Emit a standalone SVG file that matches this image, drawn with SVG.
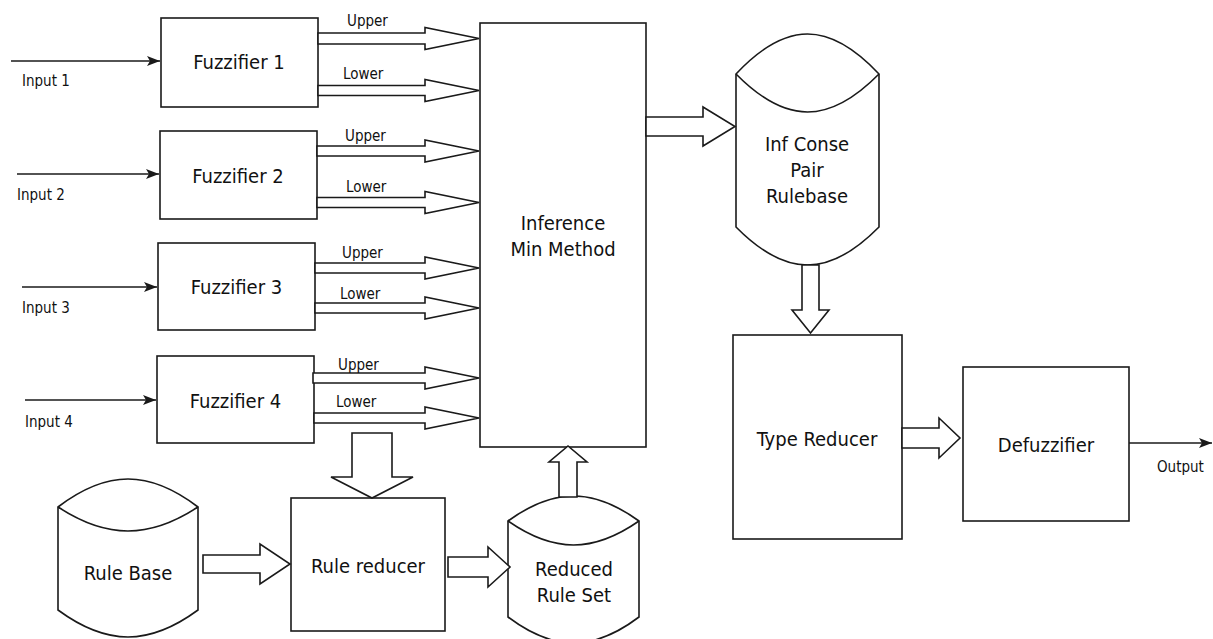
<svg xmlns="http://www.w3.org/2000/svg" width="1213" height="639" viewBox="0 0 1213 639">
  <style>
    .box { fill: #ffffff; stroke: #1a1a1a; stroke-width: 1.6; }
    .blk { fill: #ffffff; stroke: #1a1a1a; stroke-width: 1.6; stroke-linejoin: miter; }
    .line { fill: none; stroke: #1a1a1a; stroke-width: 1.6; }
    .big { font-family: "DejaVu Sans Condensed", "DejaVu Sans", sans-serif; font-stretch: condensed; font-size: 20px; fill: #111111; text-anchor: middle; }
    .small { font-family: "DejaVu Sans Condensed", "DejaVu Sans", sans-serif; font-stretch: condensed; font-size: 15px; fill: #111111; }
  </style>
  <defs>
    <marker id="head" markerWidth="14" markerHeight="10" refX="13" refY="5" orient="auto" markerUnits="userSpaceOnUse">
      <path d="M0,0 L13,5 L0,10 L3,5 Z" fill="#1a1a1a"/>
    </marker>
  </defs>
  <rect width="1213" height="639" fill="#ffffff"/>

  <!-- fuzzifiers -->
  <g id="fuzzifier1">
    <rect class="box" x="161" y="18" width="157" height="89"/>
    <text class="big" x="239" y="69">Fuzzifier 1</text>
  </g>
  <g id="fuzzifier2">
    <rect class="box" x="160" y="131" width="157" height="88"/>
    <text class="big" x="238" y="183">Fuzzifier 2</text>
  </g>
  <g id="fuzzifier3">
    <rect class="box" x="158" y="243" width="157" height="87"/>
    <text class="big" x="236.5" y="294">Fuzzifier 3</text>
  </g>
  <g id="fuzzifier4">
    <rect class="box" x="157" y="356" width="157" height="87"/>
    <text class="big" x="235.5" y="408">Fuzzifier 4</text>
  </g>

  <!-- inference -->
  <g id="inference">
    <rect class="box" x="480" y="23" width="166" height="424"/>
    <text class="big" x="563" y="230">Inference</text>
    <text class="big" x="563" y="256">Min Method</text>
  </g>

  <!-- storage cylinders -->
  <g id="inf-conse-rulebase">
    <path class="box" d="M736,74 C786,20.7 829,20.7 879,74 L879,227 C829,277.7 786,277.7 736,227 Z"/>
    <path class="line" d="M736,74 C786,124.7 829,124.7 879,74"/>
    <text class="big" x="807" y="151">Inf Conse</text>
    <text class="big" x="807" y="177">Pair</text>
    <text class="big" x="807" y="203">Rulebase</text>
  </g>
  <g id="rule-base">
    <path class="box" d="M58,507 C107,469.7 149,469.7 198,507 L198,610 C149,646 107,646 58,610 Z"/>
    <path class="line" d="M58,507 C107,539 149,539 198,507"/>
    <text class="big" x="128" y="580">Rule Base</text>
  </g>
  <g id="reduced-rule-set">
    <path class="box" d="M508,521 C554,487.7 593,487.7 639,521 L639,617 C593,651.7 554,651.7 508,617 Z"/>
    <path class="line" d="M508,521 C554,553 593,553 639,521"/>
    <text class="big" x="574" y="576">Reduced</text>
    <text class="big" x="574" y="602">Rule Set</text>
  </g>

  <!-- processing blocks -->
  <g id="rule-reducer">
    <rect class="box" x="291" y="498" width="154" height="133"/>
    <text class="big" x="368" y="573">Rule reducer</text>
  </g>
  <g id="type-reducer">
    <rect class="box" x="733" y="335" width="169" height="204"/>
    <text class="big" x="817" y="446">Type Reducer</text>
  </g>
  <g id="defuzzifier">
    <rect class="box" x="963" y="367" width="166" height="154"/>
    <text class="big" x="1046" y="452">Defuzzifier</text>
  </g>

  <!-- connectors -->
  <g id="connectors">
    <!-- crisp inputs and output -->
    <line class="line" x1="11" y1="61" x2="160" y2="61" marker-end="url(#head)"/>
    <line class="line" x1="17" y1="174" x2="159" y2="174" marker-end="url(#head)"/>
    <line class="line" x1="22" y1="287" x2="157" y2="287" marker-end="url(#head)"/>
    <line class="line" x1="25" y1="400" x2="156" y2="400" marker-end="url(#head)"/>
    <line class="line" x1="1129" y1="443" x2="1212" y2="443" marker-end="url(#head)"/>

    <!-- upper / lower membership outputs -->
    <polygon class="blk" points="318,33 425,33 425,27.5 479,38.5 425,49.5 425,44 318,44"/>
    <polygon class="blk" points="318,85.5 425,85.5 425,79.5 479,90.5 425,101.5 425,95.5 318,95.5"/>
    <polygon class="blk" points="317,146 425,146 425,140 479,151 425,162 425,156 317,156"/>
    <polygon class="blk" points="317,197.5 425,197.5 425,191.5 479,202.5 425,213.5 425,207.5 317,207.5"/>
    <polygon class="blk" points="315,263 425,263 425,257 479,268 425,279 425,273 315,273"/>
    <polygon class="blk" points="315,303 425,303 425,297 479,308 425,319 425,313 315,313"/>
    <polygon class="blk" points="313,373 425,373 425,367 479,378 425,389 425,383 313,383"/>
    <polygon class="blk" points="314,413 425,413 425,407 479,418 425,429 425,423 314,423"/>

    <!-- block flows -->
    <polygon class="blk" points="646,117 703,117 703,107 735,126.5 703,146 703,136 646,136"/>
    <polygon class="blk" points="802,265 819,265 819,310 829,310 810.5,333 792,310 802,310"/>
    <polygon class="blk" points="902,428 939,428 939,418 960,438 939,458 939,448 902,448"/>
    <polygon class="blk" points="352,433 392,433 392,477 413,477 372,498 331,477 352,477"/>
    <polygon class="blk" points="203,555 260,555 260,544 290,564 260,584 260,573 203,573"/>
    <polygon class="blk" points="448,557 488,557 488,547 510,567 488,587 488,577 448,577"/>
    <polygon class="blk" points="559,497 559,462 549,462 568,446 587,462 577,462 577,497"/>

    <!-- labels -->
    <text class="small" x="22" y="86">Input 1</text>
    <text class="small" x="17" y="200">Input 2</text>
    <text class="small" x="22" y="313">Input 3</text>
    <text class="small" x="25" y="427">Input 4</text>
    <text class="small" x="1157" y="472">Output</text>
    <text class="small" x="347" y="26">Upper</text>
    <text class="small" x="343" y="79">Lower</text>
    <text class="small" x="345" y="141">Upper</text>
    <text class="small" x="346" y="192">Lower</text>
    <text class="small" x="342" y="258">Upper</text>
    <text class="small" x="340" y="299">Lower</text>
    <text class="small" x="338" y="370">Upper</text>
    <text class="small" x="336" y="407">Lower</text>
  </g>
</svg>
